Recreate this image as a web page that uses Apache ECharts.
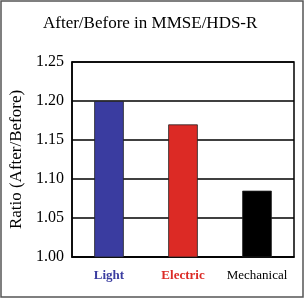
<!DOCTYPE html>
<html>
<head>
<meta charset="utf-8">
<script src="https://cdn.jsdelivr.net/npm/echarts@6/dist/echarts.min.js"></script>
<style>
  html, body { margin: 0; padding: 0; background: #fff; }
  #chart { width: 304px; height: 298px; }
</style>
</head>
<body>
<div id="chart"></div>
<script>
// data
const categories = ['Light', 'Electric', 'Mechanical'];
const ratios = [1.20, 1.17, 1.085];
const barColors = ['#3a3ca0', '#dc2a25', '#000000'];

const myChart = echarts.init(document.getElementById('chart'));
const serif = '"Liberation Serif", "DejaVu Serif", serif';

const option = {
    animation: false,
    title: {
        text: 'After/Before in MMSE/HDS-R',
        left: 38,
        top: 10,
        textStyle: { fontFamily: serif, fontSize: 17, fontWeight: 'normal', color: '#000' }
    },
    grid: { left: 72, top: 62, width: 222, height: 195, show: true, borderColor: '#000', borderWidth: 1.5 },
    xAxis: {
        type: 'category',
        data: categories,
        axisLine: { lineStyle: { color: '#000', width: 1.5 } },
        axisTick: { inside: true, length: 3, lineStyle: { color: '#000' } },
        axisLabel: {
            interval: 0,
            margin: 12,
            hideOverlap: false,
            formatter: function (v) {
                return '{' + (v === 'Light' ? 'a' : v === 'Electric' ? 'b' : 'c') + '|' + v + '}';
            },
            rich: {
                a: { color: '#3a3ca0', fontWeight: 'bold', fontFamily: serif, fontSize: 13 },
                b: { color: '#dc2a25', fontWeight: 'bold', fontFamily: serif, fontSize: 13 },
                c: { color: '#000', fontFamily: serif, fontSize: 13 }
            }
        }
    },
    yAxis: {
        type: 'value',
        min: 1.0,
        max: 1.25,
        interval: 0.05,
        name: 'Ratio (After/Before)',
        nameLocation: 'middle',
        nameGap: 38,
        nameTextStyle: { fontFamily: serif, fontSize: 17, color: '#000' },
        axisLine: { show: true, lineStyle: { color: '#000', width: 1.5 } },
        axisTick: { show: false },
        axisLabel: {
            margin: 8,
            fontFamily: serif,
            fontSize: 16,
            color: '#000',
            formatter: function (v) { return v.toFixed(2); }
        },
        splitLine: { lineStyle: { color: '#000', width: 1.5 } }
    },
    series: [{
        type: 'bar',
        barWidth: '40%',
        data: ratios.map(function (v, i) {
            return { value: v, itemStyle: { color: barColors[i], borderColor: '#222', borderWidth: 0.8 } };
        })
    }],
    graphic: [{
        type: 'rect',
        shape: { x: 1, y: 1, width: 302, height: 296 },
        style: { fill: 'none', stroke: '#555', lineWidth: 1.5 },
        silent: true
    }]
};

myChart.setOption(option);
</script>
</body>
</html>
